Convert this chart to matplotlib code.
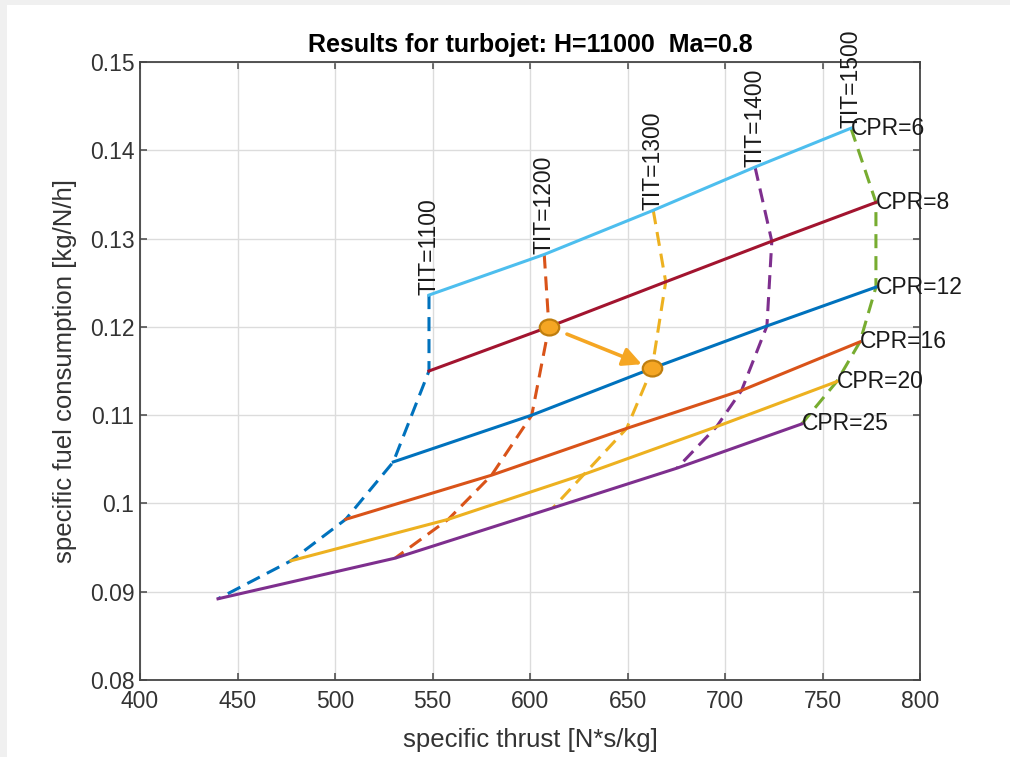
import numpy as np
import matplotlib
matplotlib.use("Agg")
import matplotlib.pyplot as plt
from matplotlib.patches import Rectangle
from matplotlib.path import Path
from matplotlib.ticker import FuncFormatter

plt.rcParams['font.family'] = ['Liberation Sans', 'DejaVu Sans']

# compressor pressure ratios (rows) and turbine inlet temperatures (columns)
cpr = [6, 8, 12, 16, 20, 25]
tit = [1100, 1200, 1300, 1400, 1500]

# specific thrust [N*s/kg], row = CPR, column = TIT
thrust = [
    [548.2, 607.3, 663.2, 715.4, 764.6],
    [548.2, 609.7, 669.6, 724.0, 777.4],
    [529.9, 600.9, 662.6, 721.5, 777.4],
    [505.5, 580.3, 649.6, 708.5, 769.2],
    [477.4, 558.1, 627.7, 695.7, 757.3],
    [440.0, 530.8, 611.8, 675.4, 739.3],
]
# specific fuel consumption [kg/N/h]
sfc = [
    [0.1236, 0.1282, 0.1332, 0.1381, 0.1425],
    [0.1150, 0.1200, 0.1251, 0.1297, 0.1341],
    [0.1047, 0.1100, 0.1153, 0.1201, 0.1245],
    [0.0982, 0.1032, 0.1085, 0.1128, 0.1183],
    [0.0935, 0.0982, 0.1033, 0.1087, 0.1138],
    [0.0892, 0.0938, 0.0995, 0.1040, 0.1090],
]

# highlighted design points (row, column); the arrow goes from first to second
highlight = [(1, 1), (2, 2)]

cpr_colors = ['#4DBEEE', '#A2142F', '#0072BD', '#D95319', '#EDB120', '#7E2F8E']
tit_colors = ['#0072BD', '#D95319', '#EDB120', '#7E2F8E', '#77AC30']

thrust = np.array(thrust)
sfc = np.array(sfc)

fig = plt.figure(figsize=(10.1, 7.57), dpi=100)
fig.patch.set_facecolor('white')
# light grey window border on left and top
fig.patches.append(Rectangle((0, 0), 7 / 1010, 1, transform=fig.transFigure,
                             facecolor='#f0f0f0', edgecolor='none', zorder=-1))
fig.patches.append(Rectangle((0, 1 - 5 / 757), 1, 5 / 757, transform=fig.transFigure,
                             facecolor='#f0f0f0', edgecolor='none', zorder=-1))

ax = fig.add_axes([140 / 1010, 77 / 757, 780 / 1010, 618 / 757])

# dashed lines of constant TIT
for j, t in enumerate(tit):
    ax.plot(thrust[:, j], sfc[:, j], color=tit_colors[j], lw=2.2,
            linestyle=(0, (4.6, 2.6)), zorder=2)
    ax.text(thrust[0, j], sfc[0, j], 'TIT=%d' % t, rotation=90,
            ha='center', va='bottom', fontsize=16.5, color='#1a1a1a',
            clip_on=False, zorder=5)

# solid lines of constant CPR
for i, c in enumerate(cpr):
    ax.plot(thrust[i], sfc[i], color=cpr_colors[i], lw=2.2, zorder=3)
    ax.text(thrust[i, -1], sfc[i, -1], 'CPR=%d' % c, ha='left', va='center',
            fontsize=16.5, color='#1a1a1a', clip_on=False, zorder=5)

# slightly flattened circle marker
circ = Path.unit_circle()
oval = Path(circ.vertices * np.array([1.0, 0.82]), circ.codes)
hx = [thrust[r, k] for r, k in highlight]
hy = [sfc[r, k] for r, k in highlight]
ax.plot(hx, hy, linestyle='none', marker=oval, markersize=14,
        markerfacecolor='#F5A623', markeredgecolor='#BF7E0E',
        markeredgewidth=1.6, zorder=6)
ax.annotate('', xy=(hx[1], hy[1]), xytext=(hx[0], hy[0]),
            arrowprops=dict(arrowstyle='-|>', color='#F5A623', lw=2.6,
                            mutation_scale=28, shrinkA=14, shrinkB=8),
            zorder=6)

ax.set_xlim(400, 800)
ax.set_ylim(0.08, 0.15)
ax.set_xticks(np.arange(400, 801, 50))
ax.set_yticks(np.arange(0.08, 0.1501, 0.01))
ax.yaxis.set_major_formatter(FuncFormatter(lambda v, p: '%g' % round(v, 2)))

ax.grid(True, color='#dcdcdc', lw=1.0)
ax.set_axisbelow(True)
for s in ax.spines.values():
    s.set_color('#454545')
    s.set_linewidth(1.3)
ax.tick_params(direction='in', top=True, right=True, length=5, width=1.1,
               color='#454545', labelsize=16.5, labelcolor='#333333')
ax.tick_params(axis='x', pad=7)
ax.tick_params(axis='y', pad=4)

ax.set_xlabel('specific thrust [N*s/kg]', fontsize=18.5, color='#333333', labelpad=11)
ax.set_ylabel('specific fuel consumption [kg/N/h]', fontsize=18.5, color='#333333',
              labelpad=9)
ax.set_title('Results for turbojet: H=11000  Ma=0.8', fontsize=18, fontweight='bold',
             color='black', pad=7)

fig.savefig('out.png', dpi=100)
